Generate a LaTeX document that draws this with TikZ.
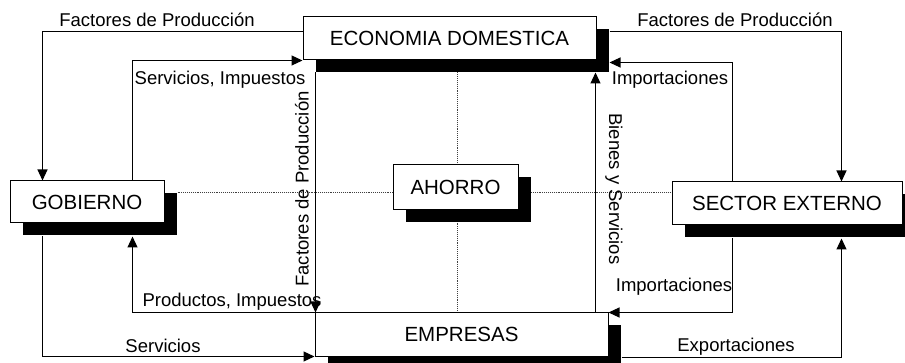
\documentclass[tikz,border=0pt]{standalone}
\usepackage{fontspec}
\setmainfont{Liberation Sans}
\usetikzlibrary{arrows.meta,calc,shadows}
\pgfdeclarelayer{bg}
\pgfsetlayers{bg,main}
\begin{document}
\begin{tikzpicture}[x=1pt,y=-1pt,
 sbox/.style={draw, line width=1pt, fill=white, inner sep=0pt,
   font=\fontsize{20.5}{24}\selectfont,
   general shadow={fill=black, shadow xshift=13pt, shadow yshift=-12pt}},
 lbl/.style={inner sep=0pt, font=\fontsize{18.5}{22}\selectfont},
 flow/.style={line width=1.2pt, -{Triangle[length=11pt,width=10pt]}},
 dotline/.style={densely dotted, line width=0.9pt, black!75}]
\useasboundingbox (0,0) rectangle (905,363);

% boxes
\node[sbox, minimum width=293pt, minimum height=43pt] (eco) at (449.5,38.5) {ECONOMIA DOMESTICA};
\node[sbox, minimum width=154pt, minimum height=42pt] (gob) at (87,202) {GOBIERNO};
\node[sbox, minimum width=230pt, minimum height=43pt] (sec) at (787,203.5) {SECTOR EXTERNO};
\node[sbox, minimum width=293pt, minimum height=43pt] (emp) at (461.5,334.5) {EMPRESAS};
\node[sbox, minimum width=125pt, minimum height=45pt] (aho) at (455.5,187.5) {AHORRO};

% dotted cross behind AHORRO
\begin{pgfonlayer}{bg}
\draw[dotline] ($(gob.north east)+(13,12)$) -- ($(sec.north west)+(0,11)$);
\draw[dotline] ($(eco.south)+(8,12)$) -- ($(emp.north)+(-4,0)$);
\end{pgfonlayer}

% flows
\draw[flow] ($(eco.north west)+(0,15)$) -| ($(gob.north west)+(33,0)$);
\draw[flow] ($(gob.north west)+(123,0)$) |- (eco.south west);
\draw[flow] (emp.north west) -| ($(gob.south west)+(123,13)$);
\draw[flow] ($(gob.south west)+(33,13)$) |- (emp.south west);
\draw[flow] ($(eco.south west)+(13,12)$) -- ($(emp.north west)+(1,0)$);
\draw[flow] ($(emp.north east)+(-13,0)$) -- ($(eco.south east)+(-1,12)$);
\draw[flow] ($(sec.north west)+(61,0)$) |- ($(eco.south east)+(13,2)$);
\draw[flow] ($(eco.north east)+(13,15)$) -| ($(sec.north west)+(170,0)$);
\draw[flow] ($(sec.south west)+(61,13)$) |- (emp.north east);
\draw[flow] ($(emp.south east)+(13,1)$) -| ($(sec.south west)+(170,13)$);

% labels
\node[lbl] (l1) at (157,20) {Factores de Producción};
\node[lbl] (l2) at (220,80) {Servicios, Impuestos};
\node[lbl] (l3) at (232,302) {Productos, Impuestos};
\node[lbl] (l4) at (163,346) {Servicios};
\node[lbl] (l5) at (736,347) {Exportaciones};
\node[lbl] (l6) at (674,287) {Importaciones};
\node[lbl] (l7) at (670,80) {Importaciones};
\node[lbl] (l8) at (735,20) {Factores de Producción};
\node[lbl, rotate=90] (l9) at (302,189) {Factores de Producción};
\node[lbl, rotate=-90] (l10) at (614,189) {Bienes y Servicios};
\end{tikzpicture}
\end{document}
